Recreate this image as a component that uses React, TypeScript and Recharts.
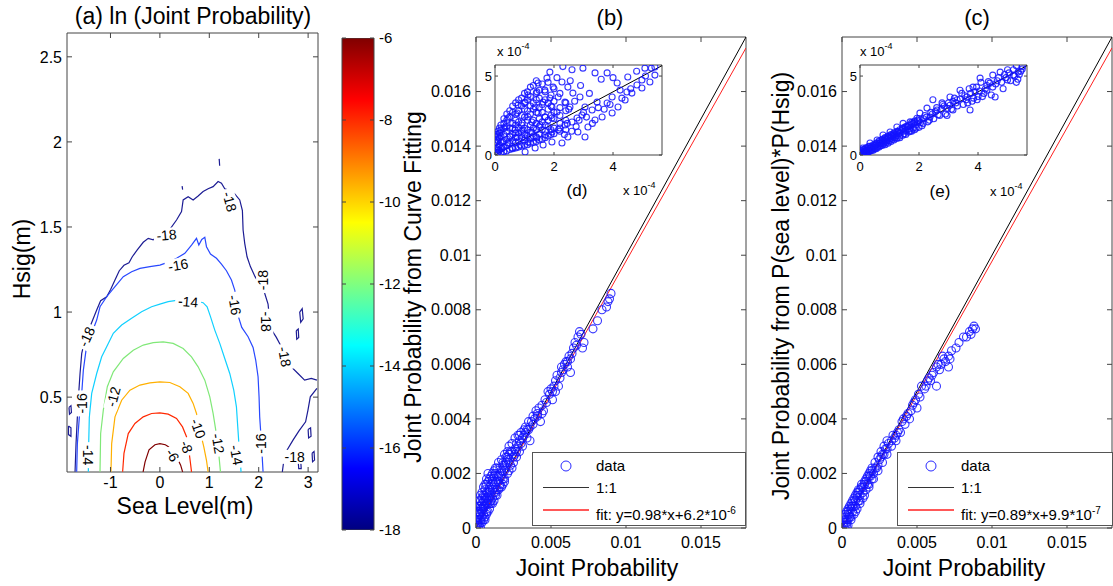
import React from 'react';
import { ComposedChart, BarChart, Bar, Line, Scatter, XAxis, YAxis, CartesianGrid, ReferenceArea } from 'recharts';

const FONT = '"Liberation Sans", Arial, Helvetica, sans-serif';
const AX = '#444';

// ---- panel (a): contour levels of ln(joint probability), [sea level, Hsig]
const seaTicks = [-1, 0, 1, 2, 3];
const hsigTicks = [0.5, 1, 1.5, 2, 2.5];

const c6 = [[-0.34,0.061],[-0.30,0.12],[-0.22,0.19],[-0.10,0.22],[0,0.227],[0.11,0.22],[0.22,0.2],[0.34,0.15],[0.42,0.1],[0.46,0.061]];
const c8 = [[-0.754,0.061],[-0.727,0.169],[-0.64,0.286],[-0.505,0.345],[-0.337,0.384],[-0.168,0.404],[0,0.408],[0.168,0.4],[0.337,0.375],[0.458,0.325],[0.539,0.267],[0.586,0.188],[0.62,0.11],[0.64,0.061]];
const c10 = [[-0.99,0.061],[-0.976,0.227],[-0.909,0.384],[-0.774,0.482],[-0.606,0.541],[-0.404,0.571],[-0.202,0.584],[0,0.59],[0.202,0.586],[0.404,0.561],[0.572,0.522],[0.673,0.463],[0.741,0.404],[0.808,0.306],[0.889,0.208],[0.943,0.129],[0.976,0.061]];
const c12 = [[-1.212,0.061],[-1.199,0.286],[-1.145,0.424],[-1.064,0.561],[-0.943,0.649],[-0.741,0.727],[-0.539,0.776],[-0.337,0.806],[-0.135,0.82],[0.067,0.825],[0.269,0.816],[0.471,0.786],[0.64,0.737],[0.774,0.678],[0.909,0.6],[1.01,0.502],[1.077,0.404],[1.131,0.306],[1.185,0.188],[1.226,0.061]];
const c14 = [[-1.448,0.061],[-1.441,0.227],[-1.428,0.384],[-1.38,0.522],[-1.279,0.639],[-1.178,0.737],[-1.077,0.796],[-0.943,0.875],[-0.774,0.924],[-0.572,0.963],[-0.37,1.002],[-0.168,1.031],[0,1.047],[0.168,1.061],[0.404,1.071],[0.673,1.067],[0.875,1.055],[0.956,1.031],[1.024,0.973],[1.111,0.894],[1.212,0.816],[1.313,0.727],[1.414,0.639],[1.495,0.541],[1.549,0.443],[1.576,0.325],[1.603,0.208],[1.643,0.061]];
const c16 = [[-1.684,0.061],[-1.67,0.227],[-1.63,0.384],[-1.582,0.522],[-1.549,0.659],[-1.495,0.776],[-1.38,0.875],[-1.279,0.953],[-1.212,1.031],[-1.077,1.09],[-0.909,1.149],[-0.741,1.208],[-0.572,1.237],[-0.404,1.257],[-0.202,1.267],[0,1.276],[0.202,1.296],[0.337,1.316],[0.505,1.345],[0.64,1.394],[0.741,1.433],[0.788,1.394],[0.848,1.427],[0.909,1.439],[0.943,1.384],[1.024,1.341],[1.145,1.316],[1.246,1.282],[1.347,1.243],[1.448,1.188],[1.515,1.129],[1.562,1.061],[1.589,0.973],[1.657,0.91],[1.785,0.855],[1.886,0.792],[1.939,0.718],[1.987,0.62],[2.007,0.502],[2.02,0.384],[2.047,0.267],[2.067,0.169],[2.088,0.061]];
const c18 = [[-1.717,0.061],[-1.697,0.227],[-1.67,0.384],[-1.643,0.522],[-1.616,0.639],[-1.582,0.757],[-1.535,0.816],[-1.468,0.875],[-1.36,0.953],[-1.279,1.012],[-1.199,1.067],[-1.077,1.09],[-0.997,1.133],[-0.909,1.188],[-0.822,1.243],[-0.727,1.275],[-0.626,1.29],[-0.559,1.325],[-0.458,1.365],[-0.337,1.41],[-0.236,1.433],[-0.135,1.424],[-0.054,1.447],[0.067,1.463],[0.202,1.486],[0.337,1.541],[0.438,1.59],[0.471,1.659],[0.572,1.678],[0.673,1.659],[0.774,1.682],[0.875,1.708],[0.976,1.725],[1.077,1.737],[1.178,1.767],[1.246,1.757],[1.313,1.725],[1.414,1.714],[1.515,1.694],[1.616,1.659],[1.67,1.596],[1.684,1.482],[1.717,1.404],[1.764,1.325],[1.832,1.267],[1.926,1.208],[2.02,1.165],[2.121,1.11],[2.189,1.047],[2.222,0.953],[2.263,0.894],[2.357,0.851],[2.458,0.796],[2.559,0.737],[2.66,0.678],[2.795,0.639],[2.929,0.6],[3.064,0.61],[3.178,0.6]];
const c18b = [[3.178,0.551],[3.044,0.502],[2.997,0.424],[2.949,0.355],[2.815,0.302],[2.694,0.247],[2.572,0.188],[2.505,0.12],[2.478,0.061]];
const c18islands = [
  [[-1.84,0.44],[-1.8,0.45],[-1.79,0.41],[-1.83,0.4],[-1.84,0.44]],
  [[-1.85,0.33],[-1.8,0.32],[-1.8,0.27],[-1.85,0.28],[-1.85,0.33]],
  [[2.83,1.0],[2.88,1.02],[2.9,0.96],[2.85,0.94],[2.83,1.0]],
  [[2.76,0.89],[2.8,0.9],[2.81,0.85],[2.77,0.84],[2.76,0.89]],
  [[3.0,0.31],[3.05,0.32],[3.06,0.27],[3.01,0.26],[3.0,0.31]],
  [[2.8,0.12],[2.85,0.13],[2.86,0.08],[2.81,0.08],[2.8,0.12]],
  [[3.08,0.17],[3.12,0.18],[3.13,0.13],[3.09,0.12],[3.08,0.17]],
  [[1.2,1.9],[1.21,1.86]],
  [[0.45,1.74],[0.46,1.72]],
];
const contourLabels = [
  { x: 1.414, y: 1.649, t: '-18', a: 75 },
  { x: 0.135, y: 1.453, t: '-18', a: -5 },
  { x: 0.37, y: 1.276, t: '-16', a: -10 },
  { x: 0.572, y: 1.061, t: '-14', a: 5 },
  { x: -1.481, y: 0.855, t: '-18', a: -65 },
  { x: -1.582, y: 0.463, t: '-16', a: -90 },
  { x: -1.448, y: 0.159, t: '-14', a: 90 },
  { x: -0.943, y: 0.502, t: '-12', a: -75 },
  { x: 0.774, y: 0.316, t: '-10', a: 70 },
  { x: 0.539, y: 0.208, t: '-8', a: 70 },
  { x: 0.256, y: 0.159, t: '-6', a: 60 },
  { x: 1.178, y: 0.227, t: '-12', a: 80 },
  { x: 1.549, y: 0.159, t: '-14', a: 80 },
  { x: 1.515, y: 1.041, t: '-16', a: 80 },
  { x: 2.054, y: 0.227, t: '-16', a: -90 },
  { x: 2.088, y: 1.188, t: '-18', a: -90 },
  { x: 2.155, y: 0.943, t: '-18', a: 90 },
  { x: 2.525, y: 0.737, t: '-18', a: 80 },
  { x: 2.727, y: 0.149, t: '-18', a: 0 },
];

// colorbar
const cbTicks = [-18, -16, -14, -12, -10, -8, -6];
const cbData = [{ name: 'ln p', range: [-18, -6] }];

// ---- panels (b) and (c): joint probability vs estimates
const mainTicksX = [0, 0.005, 0.01, 0.015];
const mainTicksY = [0, 0.002, 0.004, 0.006, 0.008, 0.01, 0.012, 0.014, 0.016];
const bPts = [
  [0.009,0.0086],[0.0089,0.0084],[0.0088,0.0083],[0.0087,0.0081],[0.0084,0.008],[0.0081,0.0076],[0.0078,0.0073],[0.0069,0.0072],[0.0068,0.007],[0.0072,0.0068],
  [0.0071,0.0066],[0.0065,0.0066],[0.0063,0.0062],[0.0061,0.0059],[0.0058,0.0058],[0.0063,0.0057],[0.0056,0.0055],[0.0055,0.0052],[0.0051,0.005],[0.0049,0.0049],
  [0.0051,0.0047],[0.0047,0.0046],[0.0041,0.0042],[0.0041,0.0041],[0.0043,0.0039],[0.0037,0.0039],[0.0036,0.0037],[0.0033,0.0035],[0.0031,0.0033],[0.0029,0.0032],
  [0.0036,0.0032],[0.0026,0.0029],[0.0023,0.0028],[0.0025,0.0026],[0.0021,0.0025],[0.0018,0.0023],[0.0024,0.0022],[0.0016,0.002],[0.0014,0.0019],[0.0018,0.0018],
  [0.0011,0.0017],[0.0009,0.0015],[0.0014,0.0014],[0.0007,0.0013],[0.0006,0.001],[0.0011,0.0011],[0.0005,0.0008],[0.0004,0.0006],[0.0003,0.0003],[0.0001,0.0001],
  [0.0007,0.0006],[0.0003,0.0007],[0.0001,0.0004],[0.006,0.0061],[0.0057,0.0057],[0.0053,0.0054],[0.0046,0.0047],[0.0044,0.0045],[0.0039,0.004],[0.0034,0.0036],
  [0.0032,0.0034],[0.0028,0.003],[0.0027,0.0028],[0.0022,0.0024],[0.002,0.0022],[0.0019,0.0021],[0.0017,0.0019],[0.0015,0.0017],[0.0013,0.0015],[0.0012,0.0013],
  [0.001,0.0012],[0.0008,0.001],[0.0008,0.0009],[0.0006,0.0008],[0.0005,0.0005],[0.0004,0.0004],[0.0002,0.0003],[0.0002,0.0005],[0.0001,0.0002],[0,0.0001],
  [0.0002,0.0001],[0.0003,0.0002],[0.0004,0.0009],[0.0006,0.0012],[0.0009,0.0011],[0.001,0.0009],[0.0012,0.0016],[0.0013,0.0012],[0.0016,0.0016],[0.0019,0.0018],
  [0.002,0.0024],[0.0023,0.0023],[0.0026,0.0027],[0.003,0.0031],[0.0034,0.0033],[0.0038,0.0038],[0.004,0.0043],[0.0045,0.0043],[0.0048,0.005],[0.0052,0.0052],
  [0.0054,0.0056],[0.0059,0.006],[0.0062,0.0063],[0.0066,0.0068],[0.007,0.0071],
  [0.0001,0.0006],[0.0002,0.0008],[0.0003,0.001],[0.0004,0.0011],[0.0005,0.0012],[0.0006,0.0014],[0.0007,0.0016],[0.0008,0.0017],[0.0009,0.0018],[0.001,0.0019],
  [0.0011,0.002],[0.0012,0.0021],[0.0013,0.0022],[0.0015,0.0024],[0.0017,0.0025],[0.0019,0.0027],[0.0021,0.0028],[0.0022,0.003],[0.0024,0.0031],[0.0026,0.0033],
  [0.0028,0.0034],[0.003,0.0035],[0.0033,0.0037],[0.0035,0.0039],[0.0005,0.0003],[0.0006,0.0004],[0.0008,0.0006],[0.0009,0.0007],[0.0011,0.0009],[0.0012,0.001],
  [0.0014,0.0012],[0.0015,0.0014],[0.0017,0.0015],[0.0019,0.0017],[0.0021,0.002],[0.0022,0.0021],[0.0025,0.0024],[0.0027,0.0026],[0.0029,0.0028],[0.0031,0.003],
  [0.0003,0.0005],[0.0005,0.0007],[0.0007,0.0009],[0.0009,0.0013],[0.0011,0.0014],[0.0013,0.0017],[0.0015,0.0019],[0.0017,0.0021],[0.0019,0.0023],[0.0021,0.0026],
  [0.0024,0.0028],[0.0027,0.0031],[0.0029,0.0034],[0.0032,0.0036],[0.0035,0.0036],[0.0038,0.0041],[0.0042,0.0044],[0.0044,0.0042],[0.005,0.0051],[0.0053,0.005],
  [0.0057,0.0059],[0.0061,0.0061],[0.0064,0.0064],[0.0067,0.0067],
  [0,0.0003],[0.0001,0.0008],[0.0002,0.001],[0.0003,0.0012],[0.0004,0.0013],[0.0005,0.0015],[0.0006,0.0016],[0.0007,0.0018],[0.0008,0.002],[0.0001,0.0003],
  [0.0002,0.0006],[0.0003,0.0008],[0.0004,0.0007],[0.0005,0.001],[0.0006,0.0011],[0.0007,0.0011],[0.0008,0.0013],[0.0009,0.0014],[0.001,0.0016],[0.0011,0.0018],
  [0.0012,0.0019],[0.0013,0.002],[0.0014,0.0022],[0.0016,0.0022],[0.0018,0.0024],[0.002,0.0026],[0.0022,0.0027],[0.0003,0],[0.0004,0.0002],[0.0006,0.0003],
  [0.0007,0.0005],[0.0009,0.0009],[0.001,0.001],[0.0013,0.0013],[0.0016,0.0015],[0.0018,0.0016],
];
const cPts = [
  [0.0088,0.0074],[0.0087,0.0073],[0.0085,0.0072],[0.0081,0.007],[0.0078,0.0068],[0.0073,0.0065],[0.0071,0.0063],[0.0068,0.0062],[0.0071,0.0059],[0.0066,0.006],
  [0.0063,0.0059],[0.006,0.0056],[0.0063,0.0052],[0.0057,0.0054],[0.0053,0.0052],[0.0051,0.0049],[0.0049,0.0047],[0.005,0.0044],[0.0046,0.0043],[0.0043,0.0041],
  [0.0045,0.004],[0.004,0.0039],[0.0038,0.0036],[0.0036,0.0034],[0.0033,0.0032],[0.0031,0.0031],[0.0029,0.0029],[0.0027,0.0027],[0.0025,0.0025],[0.0023,0.0022],
  [0.002,0.0021],[0.0018,0.0019],[0.0016,0.0017],[0.0013,0.0015],[0.0011,0.0013],[0.0009,0.001],[0.0007,0.0008],[0.0005,0.0005],[0.0003,0.0003],[0,0],
  [0.0069,0.0061],[0.0065,0.0058],[0.0061,0.0057],[0.0058,0.0055],[0.0055,0.0051],[0.0048,0.0046],[0.0044,0.0042],[0.0041,0.004],[0.0037,0.0035],[0.0035,0.0033],
  [0.0034,0.0034],[0.003,0.0029],[0.0028,0.0027],[0.0026,0.0026],[0.0024,0.0023],[0.0022,0.0022],[0.0021,0.002],[0.0019,0.0019],[0.0017,0.0016],[0.0015,0.0016],
  [0.0014,0.0013],[0.0012,0.0012],[0.001,0.0011],[0.0008,0.0008],[0.0006,0.0007],[0.0004,0.0005],[0.0002,0.0003],[0.0001,0.0001],[0.0003,0.0002],[0.0005,0.0004],
  [0.0007,0.0006],[0.0009,0.0008],[0.0011,0.001],[0.0002,0.0001],[0.0001,0.0002],[0.0004,0.0003],
  [0.0002,0.0004],[0.0004,0.0006],[0.0006,0.0008],[0.0008,0.001],[0.001,0.0012],[0.0012,0.0014],[0.0014,0.0015],[0.0016,0.0018],[0.0018,0.002],[0.002,0.0022],
  [0.0022,0.0024],[0.0024,0.0026],[0.0026,0.0028],[0.0028,0.003],[0.003,0.0032],[0.0003,0.0001],[0.0006,0.0004],[0.0009,0.0006],[0.0012,0.0009],[0.0015,0.0012],
  [0.0018,0.0015],[0.0021,0.0018],[0.0024,0.0021],[0.0027,0.0024],[0.003,0.0027],[0.0033,0.003],[0.0036,0.0032],[0.0039,0.0035],[0.0042,0.0038],[0.0047,0.0045],
  [0.0052,0.0048],[0.0056,0.0052],[0.0059,0.0054],[0.0064,0.006],[0.0067,0.0063],[0.0072,0.0062],[0.0076,0.0066],[0.0083,0.007],[0.0086,0.0071],[0.0089,0.0073],
  [0.0001,0.0003],[0.0002,0.0005],[0.0003,0.0006],[0.0004,0.0007],[0.0005,0.0008],[0.0006,0.0009],[0.0007,0.001],[0.0008,0.0011],[0.0009,0.0012],[0.001,0.0013],
  [0.0011,0.0014],[0.0013,0.0016],[0.0015,0.0017],[0.0017,0.0019],[0.0019,0.0021],[0.0004,0.0001],[0.0006,0.0003],[0.0008,0.0005],[0.001,0.0007],[0.0012,0.001],
  [0.0014,0.0011],[0.0016,0.0014],[0.0018,0.0016],[0.002,0.0018],
];
const oneToOne = [[0, 0], [0.018, 0.018]];
const fitB = [[0, 0.0000062], [0.018, 0.0176]];
const fitC = [[0, 0.00000099], [0.018, 0.0176]];

// ---- insets (d) and (e), units of 1e-4
const insetTicksX = [0, 2, 4];
const insetTicksY = [0, 5];
const dPts = [
  [2.3,5.6],[1.86,5.25],[1.76,4.87],[1.46,4.56],[1.42,4.0],[1.12,3.8],[1.02,3.35],[0.78,3.16],[0.75,2.66],[0.44,2.34],[0.34,1.77],[0.17,1.39],[0,0.76],
  [2.61,5.4],[2.98,5.5],[3.39,5.2],[3.8,5.2],[4.14,4.56],[4.5,4.94],[4.98,4.75],[5.08,5.5],[5.42,5.57],[5.42,5.06],[5.25,4.62],[4.81,4.43],[4.47,3.99],
  [4.24,4.11],[3.97,3.67],[3.8,3.29],[3.46,3.35],[3.29,2.85],[3.05,3.04],[2.95,2.53],[2.78,2.34],[2.61,2.09],[2.37,1.9],[2.2,1.71],[1.93,1.46],[1.69,1.27],
  [1.42,1.08],[1.12,0.82],[0.85,0.63],[0.58,0.44],[2.27,4.62],[2.47,4.3],[2.64,3.92],[2.88,3.67],[1.97,4.3],[1.69,4.11],[2.14,3.67],[2.37,3.35],[2.54,3.04],
  [1.86,3.61],[1.63,3.35],[1.93,3.04],[2.1,2.72],[1.36,3.04],[1.46,2.66],[1.69,2.41],[1.93,2.34],[1.12,2.41],[1.25,2.09],[1.53,1.9],[0.92,2.03],[0.95,1.58],
  [1.25,1.46],[0.68,1.58],[0.75,1.14],[1.02,1.08],[0.51,1.14],[0.44,0.76],[0.27,0.82],[0.24,0.44],[0.1,0.32],[0.07,0.13],[2.47,1.14],[2.81,1.46],[3.15,1.77],
  [3.39,2.22],[3.63,2.41],[3.97,2.66],[4.17,3.04],[4.41,3.48],[4.64,3.92],[4.98,4.24],[1.93,0.82],[1.63,0.63],[1.36,0.44],[1.02,0.19],[2.27,0.76],[3.05,1.14],
  [2.1,4.9],[2.55,4.7],[2.9,4.4],[3.2,3.9],[3.6,4.8],[4.0,4.9],[4.3,3.6],[4.6,4.2],[4.8,5.3],[5.1,5.0],[5.3,5.5],[3.0,2.7],[3.1,2.4],[3.3,2.0],[3.5,3.0],
  [3.7,2.9],[3.9,3.2],[2.6,1.5],[2.75,1.8],[2.85,2.2],[2.7,3.4],[2.5,2.9],[2.45,2.0],[2.35,1.3],[2.15,1.6],
];
// dense wedge near the origin of inset (d)
const dWedge = [
  [0.05,0.4],[0.05,0.8],[0.05,1.0],[0.05,1.3],[0.1,0.15],[0.1,0.5],[0.1,0.9],[0.1,1.2],[0.1,1.5],[0.15,0.3],[0.15,0.6],[0.15,1.1],[0.15,1.4],[0.15,1.7],
  [0.2,0.15],[0.2,0.4],[0.2,0.8],[0.2,1.2],[0.2,1.6],[0.2,1.9],[0.3,0.2],[0.3,0.5],[0.3,0.9],[0.3,1.3],[0.3,1.7],[0.3,2.0],[0.3,2.3],
  [0.4,0.25],[0.4,0.6],[0.4,1.0],[0.4,1.5],[0.4,1.8],[0.4,2.2],[0.4,2.6],[0.5,0.35],[0.5,0.75],[0.5,1.2],[0.5,1.7],[0.5,2.4],[0.5,2.8],
  [0.6,0.4],[0.6,0.9],[0.6,1.3],[0.6,1.7],[0.6,2.0],[0.6,2.7],[0.6,3.1],[0.7,0.45],[0.7,0.8],[0.7,1.1],[0.7,1.4],[0.7,1.9],[0.7,2.2],[0.7,2.6],[0.7,3.3],
  [0.8,0.5],[0.8,0.9],[0.8,1.4],[0.8,1.7],[0.8,2.1],[0.8,2.8],[0.8,3.5],[0.9,0.55],[0.9,1.1],[0.9,1.5],[0.9,1.9],[0.9,2.5],[0.9,3.1],[0.9,3.6],
  [1.0,0.6],[1.0,0.95],[1.0,1.3],[1.0,1.7],[1.0,2.4],[1.0,2.9],[1.0,3.3],[1.0,3.9],[1.1,0.65],[1.1,1.2],[1.1,1.6],[1.1,2.2],[1.1,2.8],[1.1,3.5],[1.1,4.0],
  [1.2,0.75],[1.2,1.05],[1.2,1.45],[1.2,1.9],[1.2,2.6],[1.2,3.1],[1.2,3.7],[1.2,4.3],[1.3,0.8],[1.3,1.2],[1.3,1.7],[1.3,2.2],[1.3,2.9],[1.3,3.3],[1.3,4.4],
  [1.4,0.85],[1.4,1.15],[1.4,1.6],[1.4,2.0],[1.4,2.7],[1.4,3.5],[1.4,3.9],[1.4,4.7],[1.5,0.95],[1.5,1.35],[1.5,1.8],[1.5,2.3],[1.5,3.0],[1.5,3.6],[1.5,4.1],
  [1.6,1.0],[1.6,1.6],[1.6,2.1],[1.6,2.7],[1.6,3.2],[1.6,4.5],[1.7,1.1],[1.7,1.5],[1.7,1.9],[1.7,2.4],[1.7,3.5],[1.7,4.0],
  [1.8,1.2],[1.8,1.8],[1.8,2.2],[1.8,2.9],[1.8,3.3],[1.8,4.6],[1.9,1.3],[1.9,1.6],[1.9,2.5],[1.9,3.1],[1.9,3.8],
  [2.0,1.35],[2.0,1.7],[2.0,2.3],[2.0,2.7],[2.0,3.4],[2.0,4.2],[2.2,1.5],[2.2,2.0],[2.2,2.5],[2.2,3.0],[2.2,3.9],[2.4,1.6],[2.4,2.2],[2.4,2.8],[2.4,3.3],
];
const ePts = [
  [5.5,5.6],[5.3,5.65],[5.36,5.25],[5.2,5.06],[5.3,4.6],[5.0,4.75],[5.0,5.4],[4.75,5.25],[4.5,5.06],[4.4,4.55],[4.58,3.67],[4.3,4.1],[4.07,4.87],[3.83,4.3],
  [3.97,3.5],[3.73,2.85],[3.63,3.67],[3.39,4.1],[3.29,3.5],[3.15,2.85],[3.05,3.67],[2.95,2.5],[2.78,3.3],[2.61,2.85],[2.47,3.5],[2.37,2.4],[2.27,2.97],[2.14,2.0],
  [2.03,2.65],[1.93,2.33],[1.8,1.7],[1.7,2.1],[1.6,1.6],[1.46,2.0],[1.36,1.4],[1.25,1.77],[1.12,1.14],[1.02,1.46],[0.9,0.95],[0.78,1.27],[0.68,0.76],[0.58,0.95],
  [0.44,0.5],[0.34,0.76],[0.24,0.3],[0.1,0.44],[0.07,0.13],[0,0.2],
  [0.05,0.1],[0.1,0.05],[0.15,0.2],[0.2,0.1],[0.25,0.3],[0.3,0.2],[0.35,0.45],[0.4,0.3],[0.45,0.6],[0.5,0.4],[0.55,0.65],[0.6,0.5],[0.65,0.85],[0.7,0.6],
  [0.75,0.95],[0.8,0.7],[0.85,1.1],[0.9,0.8],[0.95,1.2],[1.0,0.9],[1.05,1.3],[1.1,1.0],[1.15,1.4],[1.2,1.1],[1.3,1.5],[1.35,1.2],[1.45,1.7],[1.5,1.35],
  [1.55,1.55],[1.65,1.9],[1.7,1.5],[1.85,2.1],[1.9,1.7],[2.0,2.3],[2.1,1.85],[2.2,2.5],[2.3,2.1],[2.4,2.7],[2.5,2.3],[2.6,3.0],[2.7,2.5],[2.85,3.1],
  [2.9,2.6],[3.0,3.3],[3.1,2.9],[3.2,3.6],[3.3,3.1],[3.45,3.9],[3.5,3.2],[3.6,3.5],[3.7,4.2],[3.8,3.4],[3.9,4.0],[4.0,3.7],[4.1,4.6],[4.2,3.9],
  [4.3,4.4],[4.45,3.8],[4.6,4.5],[4.7,4.9],[4.85,4.2],[4.9,5.1],[5.1,4.7],[5.2,5.4],[5.35,4.8],[5.45,5.3],[0.02,0.3],[0.1,0.35],[0.2,0.45],[0.3,0.55],
  [0.05,0.25],[0.12,0.18],[0.18,0.3],[0.22,0.22],[0.28,0.4],[0.32,0.28],[0.38,0.5],[0.42,0.38],[0.48,0.55],[0.52,0.48],[0.58,0.72],[0.62,0.58],[0.68,0.75],
  [0.72,0.7],[0.78,0.88],[0.82,0.8],[0.88,1.0],[0.92,0.9],[0.98,1.1],[1.02,1.05],[1.08,1.2],[1.12,1.25],[1.18,1.3],[1.22,1.2],[1.28,1.45],[1.32,1.35],
  [1.4,1.55],[1.48,1.5],[1.52,1.75],[1.6,1.8],[1.68,1.65],[1.75,1.95],[1.8,2.0],[1.88,1.9],[1.95,2.2],[2.05,2.05],[2.15,2.3],[2.25,2.4],[2.35,2.2],
  [2.45,2.6],[2.55,2.75],[2.65,2.55],[2.75,2.9],[2.8,3.2],[2.95,2.95],[3.05,3.15],[3.15,3.4],[3.25,3.3],[3.4,3.55],[3.55,3.75],[3.65,3.3],[3.75,3.9],
  [3.85,3.6],[3.95,4.3],[4.05,4.05],[4.15,3.7],[4.25,4.2],[4.35,4.65],[4.5,4.3],[4.65,4.7],[4.8,4.6],[4.95,4.9],[5.05,5.2],[5.25,5.0],[5.4,5.1],[5.5,5.45],
  [0.15,0.1],[0.15,0.35],[0.25,0.15],[0.25,0.45],[0.35,0.25],[0.35,0.55],[0.45,0.3],[0.45,0.65],[0.55,0.4],[0.55,0.75],[0.65,0.5],[0.65,0.9],
  [0.75,0.6],[0.75,1.0],[0.85,0.65],[0.85,1.05],[0.95,0.75],[0.95,1.15],[1.05,0.85],[1.05,1.25],[1.15,0.95],[1.15,1.35],[1.25,1.05],[1.25,1.5],
  [1.35,1.1],[1.35,1.6],[1.45,1.25],[1.45,1.65],[1.55,1.3],[1.55,1.8],[1.65,1.45],[1.65,1.85],[1.75,1.5],[1.75,2.05],[1.85,1.6],[1.85,2.15],[2.0,1.75],[2.0,2.15],
];
const insetOneToOne = [[0, 0], [5.66, 5.66]];

const xy = (a: number[][]) => a.map(([x, y]) => ({ x, y }));

const contourSeries = [
  { pts: c18, color: '#1c1c94' },
  { pts: c18b, color: '#1c1c94' },
  ...c18islands.map((pts) => ({ pts, color: '#1c1c94' })),
  { pts: c16, color: '#2848ff' },
  { pts: c14, color: '#10d0ff' },
  { pts: c12, color: '#80e878' },
  { pts: c10, color: '#ffb000' },
  { pts: c8, color: '#ff2800' },
  { pts: c6, color: '#800000' },
];

// inward MATLAB-style ticks on both sides of the box; label drawn by the axis tick hook
type TickOpt = { side: 'bottom' | 'left' | 'right'; span: number; len: number; gap: number; size: number };
const tickFactory = ({ side, span, len, gap, size }: TickOpt) => (p: any) => {
  const { x, y, payload } = p;
  const label = String(payload.value);
  if (side === 'bottom') {
    const ay = y - gap;
    return (
      <g>
        <line x1={x} x2={x} y1={ay} y2={ay - len} stroke={AX} />
        <line x1={x} x2={x} y1={ay - span} y2={ay - span + len} stroke={AX} />
        <text x={x} y={y} dy="0.71em" textAnchor="middle" fontSize={size} fill="#000">{label}</text>
      </g>
    );
  }
  if (side === 'left') {
    const ax = x + gap;
    return (
      <g>
        <line x1={ax} x2={ax + len} y1={y} y2={y} stroke={AX} />
        <line x1={ax + span} x2={ax + span - len} y1={y} y2={y} stroke={AX} />
        <text x={x} y={y} dy="0.355em" textAnchor="end" fontSize={size} fill="#000">{label}</text>
      </g>
    );
  }
  const ax = x - gap;
  return (
    <g>
      <line x1={ax} x2={ax - len} y1={y} y2={y} stroke={AX} />
      <line x1={ax - span} x2={ax - span + len} y1={y} y2={y} stroke={AX} />
      <text x={x} y={y} dy="0.355em" textAnchor="start" fontSize={size} fill="#000">{label}</text>
    </g>
  );
};

const ContourLabel = (p: any) => {
  const { cx, cy, payload } = p;
  if (cx == null || cy == null) return null;
  const w = payload.t.length * 8 + 2;
  return (
    <g transform={`rotate(${payload.a} ${cx} ${cy})`}>
      <rect x={cx - w / 2} y={cy - 7} width={w} height={14} fill="#fff" />
      <text x={cx} y={cy} textAnchor="middle" dominantBaseline="central" fontSize={14} fill="#000">{payload.t}</text>
    </g>
  );
};

const circle = (r: number) => (p: any) =>
  p.cx == null ? null : <circle cx={p.cx} cy={p.cy} r={r} fill="none" stroke="#1414ff" strokeOpacity={0.85} strokeWidth={1.1} />;

const Txt = ({ x, y, size, rot, children }: any) => (
  <div style={{ position: 'absolute', left: x, top: y, transform: `translate(-50%,-50%)${rot ? ` rotate(${rot}deg)` : ''}`, fontSize: size, whiteSpace: 'nowrap', lineHeight: 1, color: '#000' }}>
    {children}
  </div>
);

const Exp = ({ x, y }: { x: number; y: number }) => (
  <div style={{ position: 'absolute', left: x, top: y, fontSize: 13, whiteSpace: 'nowrap', lineHeight: 1 }}>
    x 10<sup style={{ fontSize: 9, verticalAlign: 'top', position: 'relative', top: -3 }}>-4</sup>
  </div>
);

function MainPanel({ pts, fit, left, width, marginLeft, marginRight }: any) {
  const pw = width - marginLeft - 60 - marginRight;
  const ph = 586 - 37 - 58;
  return (
    <div style={{ position: 'absolute', left, top: 0 }}>
      <ComposedChart width={width} height={586} margin={{ top: 37, right: marginRight, bottom: 28, left: marginLeft }}>
        <XAxis dataKey="x" type="number" domain={[0, 0.018]} allowDataOverflow ticks={mainTicksX} height={30} axisLine={false} tickLine={false} tickSize={0} tickMargin={9}
          tick={tickFactory({ side: 'bottom', span: ph, len: 5, gap: 9, size: 16 })} />
        <YAxis dataKey="y" type="number" domain={[0, 0.018]} allowDataOverflow ticks={mainTicksY} width={60} axisLine={false} tickLine={false} tickSize={0} tickMargin={5}
          tick={tickFactory({ side: 'left', span: pw, len: 5, gap: 5, size: 16 })} />
        <Scatter data={xy(pts)} shape={circle(4)} isAnimationActive={false} />
        <Line data={xy(oneToOne)} dataKey="y" stroke="#000" strokeWidth={1} dot={false} isAnimationActive={false} />
        <Line data={xy(fit)} dataKey="y" stroke="#ff2020" strokeWidth={1} dot={false} isAnimationActive={false} />
        <ReferenceArea x1={0} x2={0.018} y1={0} y2={0.018} fill="none" stroke={AX} strokeWidth={1} ifOverflow="visible" />
      </ComposedChart>
    </div>
  );
}

function Inset({ pts, left }: any) {
  return (
    <div style={{ position: 'absolute', left, top: 58 }}>
      <ComposedChart width={200} height={120} margin={{ top: 7, right: 8, bottom: 0, left: 5 }}>
        <CartesianGrid horizontal={false} vertical={false} fill="#fff" />
        <XAxis dataKey="x" type="number" domain={[0, 5.66]} allowDataOverflow ticks={insetTicksX} height={23} axisLine={false} tickLine={false} tickSize={0} tickMargin={7}
          tick={tickFactory({ side: 'bottom', span: 90, len: 3, gap: 7, size: 13 })} />
        <YAxis dataKey="y" type="number" domain={[0, 5.7]} allowDataOverflow ticks={insetTicksY} width={20} axisLine={false} tickLine={false} tickSize={0} tickMargin={3}
          tick={tickFactory({ side: 'left', span: 167, len: 3, gap: 3, size: 13 })} />
        <Scatter data={xy(pts)} shape={circle(3)} isAnimationActive={false} />
        <Line data={xy(insetOneToOne)} dataKey="y" stroke="#000" strokeWidth={1} dot={false} isAnimationActive={false} />
        <ReferenceArea x1={0} x2={5.66} y1={0} y2={5.7} fill="none" stroke={AX} strokeWidth={1} ifOverflow="visible" />
      </ComposedChart>
    </div>
  );
}

function LegendBox({ left, top, width, fitText, exp }: any) {
  const row = (y: number) => ({ position: 'absolute' as const, left: 63, top: y - 9, fontSize: 15, lineHeight: '18px', whiteSpace: 'nowrap' as const });
  return (
    <div style={{ position: 'absolute', left, top, width, height: 74, border: '1px solid #555', background: '#fff', boxSizing: 'border-box' }}>
      <svg width={60} height={72} style={{ position: 'absolute', left: 0, top: 0 }}>
        <circle cx={33} cy={13} r={5} fill="none" stroke="#2a2aff" strokeWidth={1} />
        <line x1={10} x2={56} y1={34.5} y2={34.5} stroke="#333" strokeWidth={1} />
        <line x1={10} x2={56} y1={57} y2={57} stroke="#ff2020" strokeWidth={1.5} />
      </svg>
      <div style={row(13)}>data</div>
      <div style={row(35)}>1:1</div>
      <div style={row(58)}>
        {fitText}
        <sup style={{ fontSize: 10 }}>{exp}</sup>
      </div>
    </div>
  );
}

export default function App() {
  return (
    <div style={{ position: 'absolute', left: 0, top: 0, width: 1113, height: 586, background: '#fff', fontFamily: FONT, overflow: 'hidden' }}>
      {/* (a) contours */}
      <div style={{ position: 'absolute', left: 0, top: 0 }}>
        <ComposedChart width={330} height={530} margin={{ top: 33, right: 12, bottom: 28, left: 17 }}>
          <XAxis dataKey="x" type="number" domain={[-1.88, 3.2]} allowDataOverflow ticks={seaTicks} height={30} axisLine={false} tickLine={false} tickSize={0} tickMargin={5}
            tick={tickFactory({ side: 'bottom', span: 439, len: 5, gap: 5, size: 16 })} />
          <YAxis dataKey="y" type="number" domain={[0.06, 2.64]} allowDataOverflow ticks={hsigTicks} width={50} axisLine={false} tickLine={false} tickSize={0} tickMargin={5}
            tick={tickFactory({ side: 'left', span: 251, len: 5, gap: 5, size: 16 })} />
          {contourSeries.map((c, i) => (
            <Line key={i} data={xy(c.pts)} dataKey="y" stroke={c.color} strokeWidth={1.2} dot={false} isAnimationActive={false} />
          ))}
          <Scatter data={contourLabels} shape={ContourLabel} isAnimationActive={false} />
          <ReferenceArea x1={-1.88} x2={3.2} y1={0.06} y2={2.64} fill="none" stroke={AX} strokeWidth={1} ifOverflow="visible" />
        </ComposedChart>
      </div>

      {/* colorbar */}
      <div style={{ position: 'absolute', left: 332, top: 0 }}>
        <BarChart width={90} height={560} data={cbData} margin={{ top: 38, right: 0, bottom: 30, left: 10 }} barCategoryGap={0}>
          <defs>
            <linearGradient id="jet" x1="0" y1="0" x2="0" y2="1">
              <stop offset="0" stopColor="#800000" />
              <stop offset="0.125" stopColor="#ff0000" />
              <stop offset="0.375" stopColor="#ffff00" />
              <stop offset="0.625" stopColor="#00ffff" />
              <stop offset="0.875" stopColor="#0000ff" />
              <stop offset="1" stopColor="#000080" />
            </linearGradient>
          </defs>
          <XAxis dataKey="name" hide />
          <YAxis orientation="right" type="number" domain={[-18, -6]} allowDataOverflow ticks={cbTicks} width={48} axisLine={false} tickLine={false} tickSize={0} tickMargin={5}
            tick={tickFactory({ side: 'right', span: 32, len: 4, gap: 5, size: 15 })} />
          <Bar dataKey="range" fill="url(#jet)" stroke={AX} strokeWidth={1} isAnimationActive={false} />
        </BarChart>
      </div>

      <MainPanel pts={bPts} fit={fitB} left={400} width={350} marginLeft={16} marginRight={4} />
      <MainPanel pts={cPts} fit={fitC} left={765} width={348} marginLeft={17} marginRight={1} />
      <Inset pts={[...dPts, ...dWedge]} left={470} />
      <Inset pts={ePts} left={835} />

      <LegendBox left={532} top={452} width={214} fitText="fit: y=0.98*x+6.2*10" exp="-6" />
      <LegendBox left={897} top={452} width={216} fitText="fit: y=0.89*x+9.9*10" exp="-7" />

      {/* titles and axis labels */}
      <Txt x={193} y={16} size={23}>(a) ln (Joint Probability)</Txt>
      <Txt x={610} y={18} size={22}>(b)</Txt>
      <Txt x={977} y={18} size={22}>(c)</Txt>
      <Txt x={185} y={506} size={23}>Sea Level(m)</Txt>
      <Txt x={22} y={259} size={23} rot={-90}>Hsig(m)</Txt>
      <Txt x={413} y={287} size={23} rot={-90}>Joint Probability from Curve Fitting</Txt>
      <Txt x={781} y={286} size={23} rot={-90}>Joint Probability from P(sea level)*P(Hsig)</Txt>
      <Txt x={597} y={568} size={23}>Joint Probability</Txt>
      <Txt x={964} y={568} size={23}>Joint Probability</Txt>

      {/* inset annotations */}
      <Exp x={497} y={45} />
      <Txt x={577} y={190} size={17}>(d)</Txt>
      <Exp x={623} y={184} />
      <Exp x={860} y={45} />
      <Txt x={940} y={191} size={17}>(e)</Txt>
      <Exp x={990} y={185} />
    </div>
  );
}
